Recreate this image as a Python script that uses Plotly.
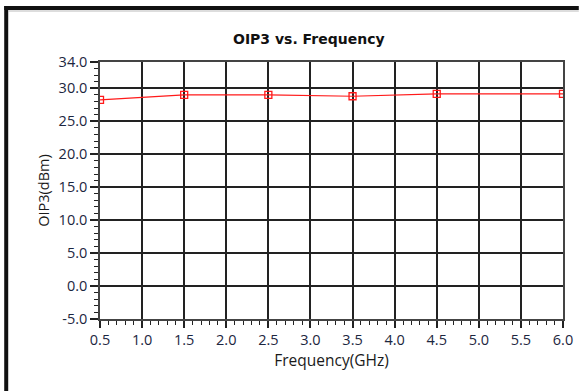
import plotly.graph_objects as go

# OIP3 measurement across frequency
freq_ghz = [0.5, 1.5, 2.5, 3.5, 4.5, 6.0]
oip3_dbm = [28.25, 29.0, 29.0, 28.8, 29.15, 29.15]

x_ticks = [0.5, 1.0, 1.5, 2.0, 2.5, 3.0, 3.5, 4.0, 4.5, 5.0, 5.5, 6.0]
y_ticks = [-5, 0, 5, 10, 15, 20, 25, 30, 34]

W, H = 585, 391
L, R, T, B = 100, 16, 62, 72
PW, PH = W - L - R, H - T - B


def px_x(px):
    return (px - L) / PW


def px_y(py):
    return (H - B - py) / PH


FONT = "Open Sans, Noto Sans, sans-serif"
label_font = dict(family=FONT, size=14.5, color="#1c2640")

fig = go.Figure(
    go.Scatter(
        x=freq_ghz,
        y=oip3_dbm,
        mode="lines+markers",
        line=dict(color="#ff1a1a", width=1.2),
        marker=dict(symbol="square-open", size=7, color="#ff1a1a", line=dict(width=1.3)),
        showlegend=False,
    )
)

fig.update_xaxes(
    range=[0.5, 6.0],
    tickvals=x_ticks,
    ticktext=[f"{v:.1f}" for v in x_ticks],
    ticks="outside",
    ticklen=7,
    tickwidth=1.5,
    tickcolor="#222",
    minor=dict(dtick=0.1, tick0=0.5, ticks="outside", ticklen=4, tickwidth=1.2, tickcolor="#222", showgrid=False),
    showgrid=True,
    gridcolor="#222",
    gridwidth=1.6,
    showline=True,
    linecolor="#444",
    linewidth=1.6,
    mirror=True,
    zeroline=False,
    tickfont=label_font,
    title=dict(text="Frequency(GHz)", font=dict(family=FONT, size=15.5, color="#1a1a1a"), standoff=6),
)

fig.update_yaxes(
    range=[-5, 34],
    tickvals=y_ticks,
    ticktext=[f"{v:.1f}" for v in y_ticks],
    ticks="outside",
    ticklen=8,
    tickwidth=1.5,
    tickcolor="#222",
    minor=dict(dtick=1, tick0=0, ticks="outside", ticklen=4, tickwidth=1.2, tickcolor="#222", showgrid=False),
    showgrid=True,
    gridcolor="#222",
    gridwidth=1.6,
    showline=True,
    linecolor="#444",
    linewidth=1.6,
    mirror=True,
    zeroline=False,
    tickfont=label_font,
    title=dict(text="OIP3(dBm)", font=dict(family=FONT, size=14.5, color="#1a1a1a"), standoff=6),
)

# window frame: thick dark edge along the top and left
shapes = [
    dict(type="line", xref="paper", yref="paper", x0=px_x(3), x1=px_x(W), y0=px_y(8), y1=px_y(8),
         line=dict(color="#111", width=4)),
    dict(type="line", xref="paper", yref="paper", x0=px_x(5), x1=px_x(5), y0=px_y(6), y1=px_y(H),
         line=dict(color="#111", width=4)),
    dict(type="line", xref="paper", yref="paper", x0=px_x(7), x1=px_x(W), y0=px_y(11), y1=px_y(11),
         line=dict(color="#bbb", width=1)),
]

fig.update_layout(
    width=W,
    height=H,
    margin=dict(l=L, r=R, t=T, b=B),
    paper_bgcolor="white",
    plot_bgcolor="white",
    shapes=shapes,
    title=dict(
        text="<b>OIP3 vs. Frequency</b>",
        x=px_x(311.5),
        xref="paper",
        xanchor="center",
        y=1 - 39 / H,
        yanchor="middle",
        font=dict(family="DejaVu Sans, Verdana, sans-serif", size=14, color="#111"),
    ),
)

fig.write_html("out.html")
